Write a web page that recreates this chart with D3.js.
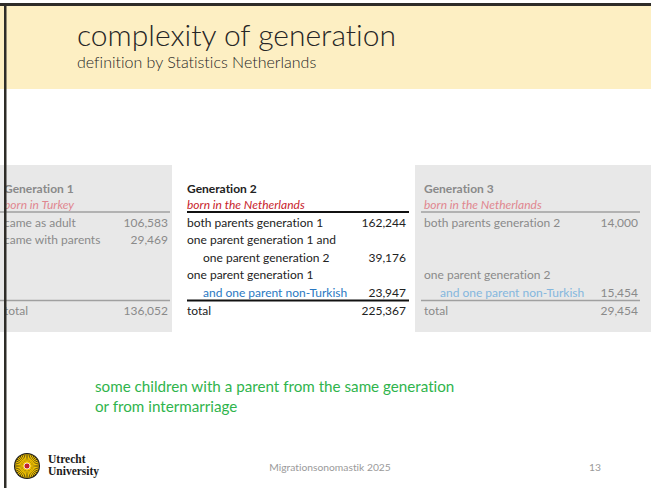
<!DOCTYPE html>
<html>
<head>
<meta charset="utf-8">
<script src="https://cdn.jsdelivr.net/npm/d3@7"></script>
<style>
  body { margin: 0; background: #fff; }
  svg { display: block; font-family: Lato, 'Open Sans', sans-serif; font-variant-ligatures: none; }
</style>
</head>
<body>
<div id="slide"></div>
<script>
// table content
const generations = ['Generation 1', 'Generation 2', 'Generation 3'];
const birthplaces = ['born in Turkey', 'born in the Netherlands', 'born in the Netherlands'];
const gen1Labels = ['came as adult', 'came with parents', '', '', ''];
const gen1Values = [106583, 29469, null, null, null];
const gen2Labels = ['both parents generation 1', 'one parent generation 1 and', 'one parent generation 2',
  'one parent generation 1', 'and one parent non-Turkish'];
const gen2Values = [162244, null, 39176, null, 23947];
const gen3Labels = ['both parents generation 2', '', '', 'one parent generation 2', 'and one parent non-Turkish'];
const gen3Values = [14000, null, null, null, 15454];
const totals = [136052, 225367, 29454];
const note = ['some children with a parent from the same generation', 'or from intermarriage'];

const width = 651;
const height = 488;
const fs = '12px';

const svg = d3.select('#slide').append('svg')
  .attr('width', width)
  .attr('height', height)
  .attr('viewBox', [0, 0, width, height]);

// header band
svg.append('rect').attr('x', 0).attr('y', 5).attr('width', width).attr('height', 84).attr('fill', '#fdefc3');
svg.append('text').attr('x', 77).attr('y', 46)
  .style('font-size', '30px').style('font-weight', 300).style('fill', '#262626')
  .text('complexity of generation');
svg.append('text').attr('x', 77).attr('y', 68)
  .style('font-size', '16px').style('font-weight', 300).style('fill', '#262626')
  .text('definition by Statistics Netherlands');

// column settings per generation
const cols = [
  { labelX: 4, numX: 168, lineX: [0, 170], panel: [0, 172], muted: true, labels: gen1Labels, values: gen1Values },
  { labelX: 187, numX: 406, lineX: [187, 409], panel: null, muted: false, labels: gen2Labels, values: gen2Values },
  { labelX: 424, numX: 638, lineX: [421, 640], panel: [415, 651], muted: true, labels: gen3Labels, values: gen3Values }
];

const y = d3.scaleLinear().domain([0, 4]).range([222, 292]);
const fmt = d3.format(',');

cols.forEach((c, i) => {
  const g = svg.append('g');
  if (c.panel) {
    g.append('rect').attr('x', c.panel[0]).attr('y', 165)
      .attr('width', c.panel[1] - c.panel[0]).attr('height', 167).attr('fill', '#e8e8e8');
  }
  const txt = c.muted ? '#8a8a8a' : '#222';
  const lineCol = c.muted ? '#a0a0a0' : '#111';
  const lineW = c.muted ? 1.5 : 2;

  g.append('text').attr('x', c.labelX).attr('y', 188).attr('dominant-baseline', 'central')
    .style('font-size', fs).style('font-weight', 'bold').style('fill', txt)
    .text(generations[i]);
  g.append('text').attr('x', c.labelX).attr('y', 204).attr('dominant-baseline', 'central')
    .style('font-size', fs).style('font-style', 'italic')
    .style('fill', c.muted ? '#e0868f' : '#c8232c')
    .text(birthplaces[i]);

  g.append('line').attr('x1', c.lineX[0]).attr('x2', c.lineX[1]).attr('y1', 212).attr('y2', 212)
    .attr('stroke', lineCol).attr('stroke-width', lineW);
  g.append('line').attr('x1', c.lineX[0]).attr('x2', c.lineX[1]).attr('y1', 300.5).attr('y2', 300.5)
    .attr('stroke', lineCol).attr('stroke-width', lineW);

  c.labels.forEach((lab, r) => {
    if (!lab) return;
    // continuation line: previous row has a label but no value
    const indent = r > 0 && c.labels[r - 1] && c.values[r - 1] == null;
    const blue = lab.includes('non-Turkish');
    g.append('text').attr('x', c.labelX + (indent ? 16 : 0)).attr('y', y(r))
      .attr('dominant-baseline', 'central').style('font-size', fs)
      .style('fill', blue ? (c.muted ? '#84b7de' : '#2a78c2') : txt)
      .text(lab);
    if (c.values[r] != null) {
      g.append('text').attr('x', c.numX).attr('y', y(r)).attr('text-anchor', 'end')
        .attr('dominant-baseline', 'central').style('font-size', fs).style('fill', txt)
        .text(fmt(c.values[r]));
    }
  });

  g.append('text').attr('x', c.labelX).attr('y', 310).attr('dominant-baseline', 'central')
    .style('font-size', fs).style('fill', txt).text('total');
  g.append('text').attr('x', c.numX).attr('y', 310).attr('text-anchor', 'end')
    .attr('dominant-baseline', 'central').style('font-size', fs).style('fill', txt)
    .text(fmt(totals[i]));
});

// green note
note.forEach((t, i) => {
  svg.append('text').attr('x', 95).attr('y', 392 + i * 20)
    .style('font-size', '15.2px').style('fill', '#2fb44c').text(t);
});

// footer
svg.append('text').attr('x', 330).attr('y', 471).attr('text-anchor', 'middle')
  .style('font-size', '10.3px').style('fill', '#9a9a9a').text('Migrationsonomastik 2025');
svg.append('text').attr('x', 601).attr('y', 471).attr('text-anchor', 'end')
  .style('font-size', '10.3px').style('fill', '#9a9a9a').text('13');

// logo: sun
const logo = svg.append('g').attr('transform', 'translate(27,466)');
logo.append('circle').attr('r', 13).attr('fill', '#1a1a1a');
d3.range(36).forEach((k) => {
  const a = (k / 36) * 2 * Math.PI;
  logo.append('line')
    .attr('x1', Math.cos(a) * 5).attr('y1', Math.sin(a) * 5)
    .attr('x2', Math.cos(a) * 12).attr('y2', Math.sin(a) * 12)
    .attr('stroke', '#f4c400').attr('stroke-width', 1.2);
});
logo.append('circle').attr('r', 5).attr('fill', '#f4c400');
logo.append('circle').attr('r', 3).attr('fill', '#c0202a').attr('stroke', '#fff').attr('stroke-width', 0.8);
svg.append('text').attr('x', 48).attr('y', 463)
  .style('font-family', "'Liberation Serif', serif").style('font-weight', 'bold')
  .style('font-size', '11.5px').style('fill', '#1a1a1a').text('Utrecht');
svg.append('text').attr('x', 48).attr('y', 475)
  .style('font-family', "'Liberation Serif', serif").style('font-weight', 'bold')
  .style('font-size', '11.5px').style('fill', '#1a1a1a').text('University');

// dark frame edges
svg.append('rect').attr('x', 0).attr('y', 3).attr('width', width).attr('height', 3).attr('fill', '#2e2c28');
svg.append('rect').attr('x', 4).attr('y', 3).attr('width', 2.5).attr('height', height).attr('fill', '#2e2c28');
</script>
</body>
</html>
